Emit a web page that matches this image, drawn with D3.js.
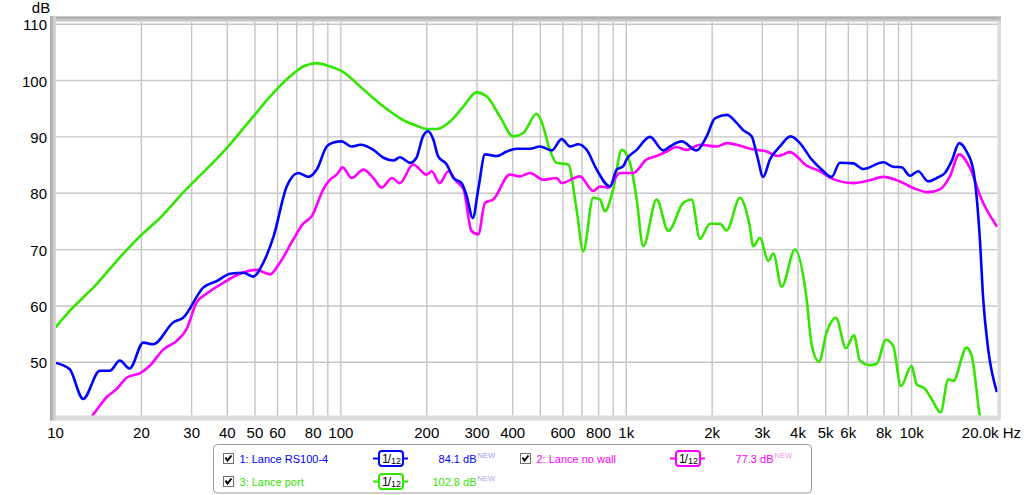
<!DOCTYPE html>
<html>
<head>
<meta charset="utf-8">
<script src="https://cdn.jsdelivr.net/npm/d3@7/dist/d3.min.js"></script>
<style>
  html, body { margin: 0; padding: 0; background: #ffffff; }
  svg { display: block; font-family: "Liberation Sans", Arial, sans-serif; }
</style>
</head>
<body>
<svg id="chart" width="1024" height="495"></svg>
<script>
// ---------------- DATA ----------------
const yTicks = [50, 60, 70, 80, 90, 100, 110];
const xTickValues = [10, 20, 30, 40, 50, 60, 80, 100, 200, 300, 400, 600, 800, 1000, 2000, 3000, 4000, 5000, 6000, 8000, 10000];
const xTickLabels = ["10", "20", "30", "40", "50", "60", "80", "100", "200", "300", "400", "600", "800", "1k", "2k", "3k", "4k", "5k", "6k", "8k", "10k"];
const xEndLabel = "20.0k Hz";
const yUnit = "dB";

const freqBlue = [10,11.2,12.5,14.3,15.5,16.8,18.2,20.3,22,25.9,28,33,36.7,40.9,45.5,49.3,53.5,58,64.6,70.9,76.9,82.3,89.2,94.1,100.6,109,117,130,141,153,161,175,184,194,202,211,219,235,248,265,276,290,303,320,352,381,413,460,498,548,594,635,679,727,788,877,926,976,1003,1088,1211,1348,1423,1564,1765,1913,2046,2251,2437,2570,2750,2877,3020,3188,3456,3767,4061,4462,4838,5245,5609,6246,6768,7953,8620,9226,9863,10546,11436,12237,13086,13813,14684,15586,16440,17352,17821,18555,19858];
const dbBlue = [49.9,48.8,43.5,48.5,48.5,50.3,48.9,53.5,53.2,57.1,57.9,63.3,64.4,65.7,65.9,65.2,67.7,72.2,81.2,83.6,82.9,84.2,88.3,89.0,89.2,88.3,88.6,87.7,86.3,85.8,86.4,85.4,86.3,90.1,91.0,89.5,86.6,85.1,82.7,81.8,79.5,75.6,80.7,86.9,86.6,87.4,87.9,87.9,88.3,87.6,89.6,88.3,88.7,87.7,84.2,81.2,84.2,84.8,86.0,87.7,90.0,87.6,88.3,89.2,87.6,90.1,93.3,93.9,92.5,91.2,90.1,86.6,82.9,86.0,88.3,90.1,88.9,86.0,84.2,82.9,85.4,85.3,84.3,85.5,84.7,84.6,83.1,83.9,82.1,82.7,83.6,85.7,88.9,87.4,84.2,71.8,61.2,52.3,44.9];

const freqMagenta = [13,13.6,15.1,16.4,17.8,19.8,21.4,23.9,26.6,28.8,31.2,33.9,38.7,44.3,50.7,56.4,61.2,68.1,73.8,79,86.8,91.6,96.7,101.5,109,120,130,139,151,161,179,200,208,222,238,254,269,287,303,320,342,391,424,460,512,570,594,688,766,809,865,951,1058,1179,1278,1386,1502,1628,1813,2074,2248,2437,2713,3104,3409,3746,4287,4772,5313,6246,7143,7953,9100,10270,11436,12563,13623,14684,16008,17593,19858];
const dbMagenta = [39.5,40.8,43.8,45.3,47.3,48.1,49.4,52.3,53.8,55.9,60.6,62.2,64.1,65.7,66.4,65.6,67.7,71.8,74.6,75.9,80.7,82.4,83.3,84.6,82.7,84.2,82.7,81.0,82.7,81.8,85.1,83.3,83.9,81.8,83.9,82.1,80.7,73.3,72.7,78.3,78.9,83.3,83.0,83.6,82.4,82.7,81.8,83.0,80.4,81.2,81.0,83.6,83.6,86.0,86.6,87.4,88.2,87.7,88.6,88.3,88.9,88.6,87.9,87.4,86.6,87.3,84.9,83.9,82.5,81.8,82.3,82.9,82.1,80.8,80.2,80.7,83.0,86.9,84.5,78.9,74.2];

const freqGreen = [10,11.5,12.5,13.6,15.1,17.8,19.8,22.9,28,39.8,49.3,58,66.3,73.8,82.3,91.6,102,120,141,165,184,200,217,241,269,299,324,361,402,436,485,505,540,570,626,670,707,766,809,842,900,964,1031,1088,1147,1278,1404,1585,1695,1813,1965,2130,2248,2503,2700,2790,2941,3145,3275,3504,3900,4287,4462,4734,5037,5430,5887,6280,6590,7143,7541,8128,8620,9175,10000,10411,11135,11753,12637,13440,13993,15586,16231,17260,18000];
const dbGreen = [56.2,59.7,61.5,63.3,65.9,70.0,72.4,75.3,80.1,88.0,93.6,97.8,100.7,102.5,103.1,102.5,101.5,98.4,95.4,93.0,92.0,91.4,91.4,92.7,95.4,97.9,97.2,93.6,90.1,90.7,94.1,92.7,87.7,85.4,85.1,77.1,69.7,79.2,78.9,76.8,80.7,87.7,85.4,78.9,70.6,78.9,73.3,78.3,78.9,71.9,74.6,74.6,73.4,79.2,74.5,70.6,72.1,68.0,69.3,63.4,70.0,61.2,53.2,50.1,55.3,57.9,52.5,54.8,50.3,49.5,49.7,54.0,52.9,45.8,49.4,46.1,45.3,43.5,41.1,47.0,46.7,52.6,51.2,41.1,35];

const seriesNames = ["1: Lance RS100-4", "2: Lance no wall", "3: Lance port"];
const seriesLevels = ["84.1 dB", "77.3 dB", "102.8 dB"];
const seriesColors = ["#0000ff", "#ff00ff", "#33e600"];
const newColors = ["#9a9af0", "#ee99ee", "#a6a6e6"];

// ---------------- LAYOUT ----------------
const svg = d3.select("#chart");
const plot = { left: 56, top: 22, right: 997.5, bottom: 415.5 };
const x = d3.scaleLog().domain([10, 20000]).range([55.5, 997.5]);
const y = d3.scaleLinear().domain([50, 110]).range([362.3, 24.2]);

const defs = svg.append("defs");
const gTop = defs.append("linearGradient").attr("id", "gTop").attr("x1", 0).attr("y1", 0).attr("x2", 0).attr("y2", 1);
gTop.append("stop").attr("offset", "0%").attr("stop-color", "#a4a4a4");
gTop.append("stop").attr("offset", "100%").attr("stop-color", "#dcdcdc");
const gLeft = defs.append("linearGradient").attr("id", "gLeft").attr("x1", 0).attr("y1", 0).attr("x2", 1).attr("y2", 0);
gLeft.append("stop").attr("offset", "0%").attr("stop-color", "#a4a4a4");
gLeft.append("stop").attr("offset", "100%").attr("stop-color", "#dcdcdc");
defs.append("clipPath").attr("id", "clip").append("rect")
  .attr("x", plot.left).attr("y", plot.top)
  .attr("width", plot.right - plot.left).attr("height", plot.bottom - plot.top);

// frame
svg.append("rect").attr("x", 50).attr("y", 16.5).attr("width", 951).attr("height", 404)
  .attr("fill", "#dadada");
svg.append("rect").attr("x", 50).attr("y", 16.5).attr("width", 951).attr("height", 5.5).attr("fill", "url(#gTop)");
svg.append("rect").attr("x", 50).attr("y", 16.5).attr("width", 6).attr("height", 404).attr("fill", "url(#gLeft)");
svg.append("rect").attr("x", plot.left).attr("y", plot.top)
  .attr("width", plot.right - plot.left).attr("height", plot.bottom - plot.top).attr("fill", "#ffffff");

// grid
const gridFreqs = [];
[10, 100, 1000, 10000].forEach(dec => { for (let m = 1; m <= 9; m++) { const f = dec * m; if (f > 10 && f < 20000) gridFreqs.push(f); } });
const grid = svg.append("g");
grid.selectAll("line.v").data(gridFreqs).enter().append("line")
  .attr("x1", d => x(d)).attr("x2", d => x(d))
  .attr("y1", plot.top).attr("y2", plot.bottom)
  .attr("stroke", "#c6c6c6").attr("stroke-width", 1.4);
grid.selectAll("line.h").data(yTicks).enter().append("line")
  .attr("x1", plot.left).attr("x2", plot.right)
  .attr("y1", d => y(d)).attr("y2", d => y(d))
  .attr("stroke", "#c6c6c6").attr("stroke-width", 1.4);

// axes labels
svg.append("g").selectAll("text").data(yTicks).enter().append("text")
  .attr("x", 47).attr("y", d => y(d) + 6)
  .attr("text-anchor", "end").attr("font-size", 15).attr("fill", "#000")
  .text(d => d);
svg.append("text").attr("x", 41).attr("y", 13).attr("text-anchor", "middle")
  .attr("font-size", 15).attr("fill", "#000").text(yUnit);
svg.append("g").selectAll("text").data(xTickValues).enter().append("text")
  .attr("x", d => x(d)).attr("y", 438)
  .attr("text-anchor", "middle").attr("font-size", 15).attr("fill", "#000")
  .text((d, i) => xTickLabels[i]);
svg.append("text").attr("x", 1021).attr("y", 438).attr("text-anchor", "end")
  .attr("font-size", 15).attr("fill", "#000").text(xEndLabel);

// curves
const line = d3.line().x(d => x(d[0])).y(d => y(d[1])).curve(d3.curveMonotoneX);
const curves = svg.append("g").attr("clip-path", "url(#clip)");
const series = [
  { f: freqGreen, v: dbGreen, c: seriesColors[2] },
  { f: freqMagenta, v: dbMagenta, c: seriesColors[1] },
  { f: freqBlue, v: dbBlue, c: seriesColors[0] }
];
series.forEach(s => {
  curves.append("path").datum(s.f.map((f, i) => [f, s.v[i]]))
    .attr("d", line).attr("fill", "none").attr("stroke", s.c)
    .attr("stroke-width", 2.6).attr("stroke-linejoin", "round").attr("stroke-linecap", "round");
});

// legend
const lg = svg.append("g");
lg.append("rect").attr("x", 213.5).attr("y", 444.5).attr("width", 598).attr("height", 48.5)
  .attr("rx", 4).attr("fill", "#ffffff").attr("stroke", "#9a9a9a").attr("stroke-width", 1);

const legendPos = [ { dx: 0, row: 0 }, { dx: 297, row: 0 }, { dx: 0, row: 1 } ];
seriesNames.forEach((name, i) => {
  const ox = legendPos[i].dx;
  const cy = 458.5 + legendPos[i].row * 23;
  const g = lg.append("g");
  // checkbox
  g.append("rect").attr("x", 223.5 + ox).attr("y", cy - 5).attr("width", 10).attr("height", 10)
    .attr("fill", "#ffffff").attr("stroke", "#707070").attr("stroke-width", 1);
  g.append("path").attr("d", `M${225.5 + ox},${cy - 1} L${227.5 + ox},${cy + 2} L${231.5 + ox},${cy - 3}`)
    .attr("fill", "none").attr("stroke", "#000").attr("stroke-width", 2);
  // name
  g.append("text").attr("x", 239.5 + ox).attr("y", cy + 4).attr("font-size", 11)
    .attr("fill", seriesColors[i]).text(name);
  // smoothing icon
  g.append("line").attr("x1", 373 + ox).attr("x2", 408 + ox).attr("y1", cy).attr("y2", cy)
    .attr("stroke", seriesColors[i]).attr("stroke-width", 2);
  g.append("rect").attr("x", 379 + ox).attr("y", cy - 7.5).attr("width", 24).attr("height", 15)
    .attr("rx", 3).attr("fill", "#ffffff").attr("stroke", seriesColors[i]).attr("stroke-width", 2);
  const t = g.append("text").attr("x", 382 + ox).attr("y", cy + 4.5).attr("fill", "#000");
  t.append("tspan").attr("font-size", 12).text("1");
  t.append("tspan").attr("font-size", 12).attr("dx", -1).text("/");
  t.append("tspan").attr("font-size", 9).attr("dx", 0).attr("dy", 1).text("12");
  // level
  g.append("text").attr("x", 476.5 + ox).attr("y", cy + 4).attr("text-anchor", "end")
    .attr("font-size", 11).attr("fill", seriesColors[i]).text(seriesLevels[i]);
  g.append("text").attr("x", 477.5 + ox).attr("y", cy - 1).attr("font-size", 7.5)
    .attr("fill", newColors[i]).text("NEW");
});
</script>
</body>
</html>
